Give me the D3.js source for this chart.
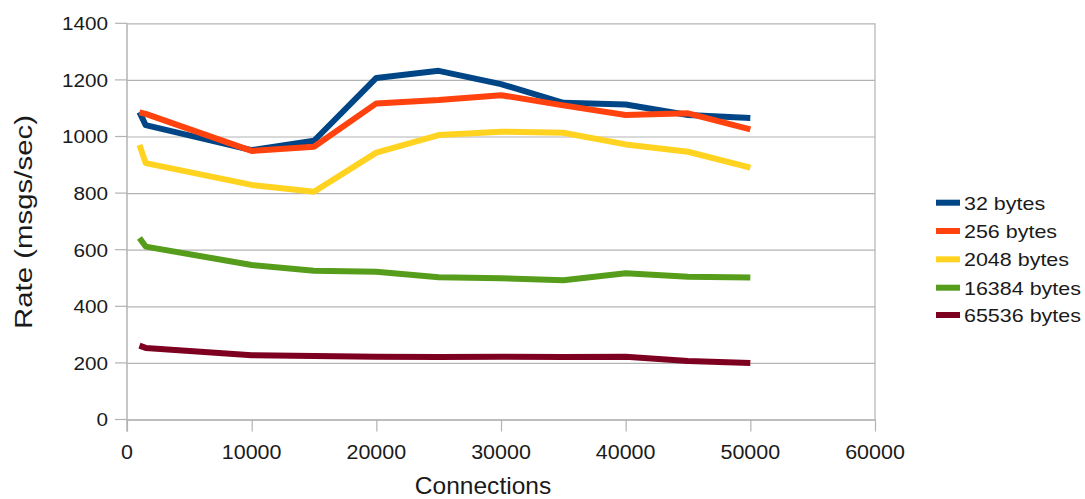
<!DOCTYPE html>
<html>
<head>
<meta charset="utf-8">
<script src="https://cdn.jsdelivr.net/npm/d3@7"></script>
<style>
  html, body { margin: 0; padding: 0; background: #fff; }
  svg { display: block; }
  text { font-family: "Liberation Sans", Arial, sans-serif; fill: #1a1a1a; }
</style>
</head>
<body>
<svg id="chart" width="1085" height="499"></svg>
<script>
// ---- data ----
const connections = [1000, 1500, 10000, 15000, 20000, 25000, 30000, 35000, 40000, 45000, 50000];
const seriesNames = ["32 bytes", "256 bytes", "2048 bytes", "16384 bytes", "65536 bytes"];
const rate32    = [1086, 1040, 952, 985, 1207, 1232, 1185, 1119, 1113, 1076, 1065];
const rate256   = [1085, 1080, 949, 964, 1117, 1129, 1146, 1110, 1076, 1082, 1025];
const rate2048  = [970, 906, 829, 805, 943, 1005, 1017, 1013, 972, 946, 890];
const rate16384 = [641, 611, 546, 526, 522, 503, 499, 492, 517, 504, 502];
const rate65536 = [261, 253, 227, 224, 222, 221, 222, 221, 222, 207, 200];
const seriesColors = ["#004586", "#ff420e", "#ffd320", "#579d1c", "#7e0021"];
const xTicks = [0, 10000, 20000, 30000, 40000, 50000, 60000];
const yTicks = [0, 200, 400, 600, 800, 1000, 1200, 1400];
const xTitle = "Connections";
const yTitle = "Rate (msgs/sec)";

const allSeries = [rate32, rate256, rate2048, rate16384, rate65536];

// ---- layout ----
const svg = d3.select("#chart");
const x = d3.scaleLinear().domain([0, 60000]).range([127, 875]);
const y = d3.scaleLinear().domain([0, 1400]).range([419.5, 23.3]);
const gridColor = "#b3b3b3";

// horizontal gridlines + y ticks
const yAxis = d3.axisLeft(y).tickValues(yTicks).tickSize(-(875 - 127)).tickFormat("").tickSizeOuter(0);
const gy = svg.append("g").attr("transform", "translate(127,0)").call(yAxis);
gy.select(".domain").remove();
gy.selectAll(".tick line").attr("stroke", gridColor).attr("stroke-width", 1.2);
// outer tick marks on the left
svg.append("g").selectAll("line").data(yTicks).join("line")
  .attr("x1", 115).attr("x2", 127)
  .attr("y1", d => y(d)).attr("y2", d => y(d))
  .attr("stroke", gridColor).attr("stroke-width", 1.2);
// y tick labels
svg.append("g").selectAll("text").data(yTicks).join("text")
  .attr("transform", d => `translate(108,${y(d) + 6.8}) scale(1.12,1)`)
  .attr("text-anchor", "end")
  .style("font-size", "18.5px")
  .text(d => d);

// x ticks
const xAxis = d3.axisBottom(x).tickValues(xTicks).tickSize(12).tickFormat("").tickSizeOuter(0);
const gx = svg.append("g").attr("transform", `translate(0,${y(0)})`).call(xAxis);
gx.select(".domain").attr("stroke", gridColor).attr("stroke-width", 1.5);
gx.selectAll(".tick line").attr("stroke", gridColor).attr("stroke-width", 1.2);
svg.append("g").selectAll("text").data(xTicks).join("text")
  .attr("transform", d => `translate(${x(d)},459.3) scale(1.1,1)`)
  .attr("text-anchor", "middle")
  .style("font-size", "19.5px")
  .text(d => d);

// left axis line and right border
svg.append("line").attr("x1", x(0)).attr("x2", x(0)).attr("y1", y(1400)).attr("y2", y(0) + 12)
  .attr("stroke", gridColor).attr("stroke-width", 1.5);
svg.append("line").attr("x1", x(60000)).attr("x2", x(60000)).attr("y1", y(1400)).attr("y2", y(0))
  .attr("stroke", gridColor).attr("stroke-width", 1.2);

// lines
const line = d3.line().x((d, i) => x(connections[i])).y(d => y(d));
svg.append("g").selectAll("path").data(allSeries).join("path")
  .attr("d", d => line(d))
  .attr("fill", "none")
  .attr("stroke", (d, i) => seriesColors[i])
  .attr("stroke-width", 6)
  .attr("stroke-linejoin", "round")
  .attr("stroke-linecap", "butt");

// axis titles
svg.append("text")
  .attr("transform", "translate(483,494) scale(1.045,1)")
  .attr("text-anchor", "middle")
  .style("font-size", "23.5px")
  .text(xTitle);
svg.append("text")
  .attr("transform", "translate(31.5,222) rotate(-90) scale(1.2,1)")
  .attr("text-anchor", "middle")
  .style("font-size", "24.5px")
  .text(yTitle);

// legend
const legendY = [202.7, 231, 259.3, 287.7, 315];
const lg = svg.append("g").selectAll("g").data(seriesNames).join("g")
  .attr("transform", (d, i) => `translate(936,${legendY[i]})`);
lg.append("line").attr("x1", 0).attr("x2", 24).attr("y1", 0).attr("y2", 0)
  .attr("stroke", (d, i) => seriesColors[i]).attr("stroke-width", 6);
lg.append("text")
  .attr("transform", "translate(28,7) scale(1.13,1)")
  .style("font-size", "19px")
  .text(d => d);
</script>
</body>
</html>
